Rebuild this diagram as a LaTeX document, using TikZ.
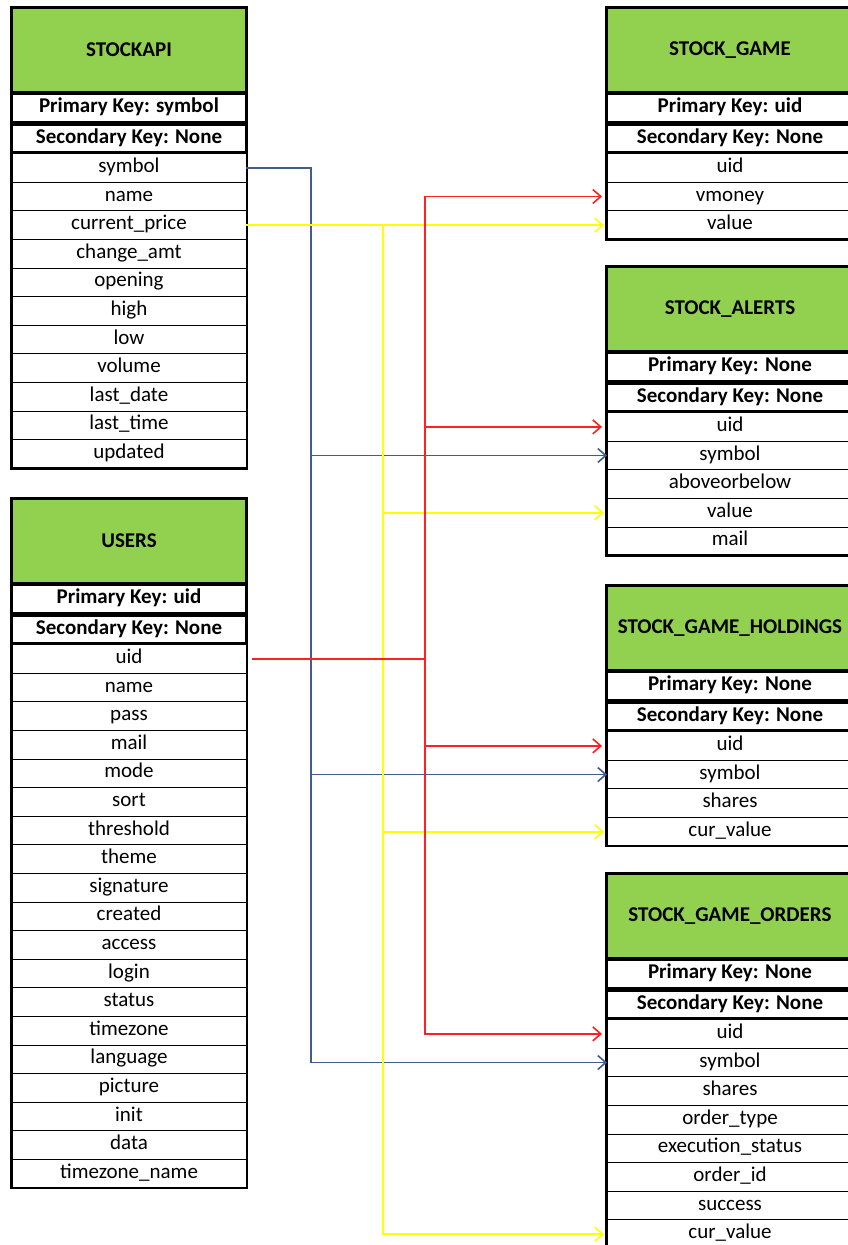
\documentclass[tikz,border=0pt]{standalone}
\usepackage{fontspec}
\setmainfont{Carlito}
\usepackage{xcolor}
\usetikzlibrary{positioning,fit,arrows.meta}

\definecolor{tblgreen}{HTML}{92D050}
\definecolor{symblue}{HTML}{3F5F8A}
\definecolor{uidred}{HTML}{FF2020}
\definecolor{valyellow}{HTML}{FFFF00}

\begin{document}
\begin{tikzpicture}[x=1pt, y=-1pt,
  font=\fontsize{21}{24}\selectfont,
  hdr/.style={draw=black, line width=2.2pt, fill=tblgreen, font=\fontsize{21}{24}\selectfont\bfseries, minimum height=84pt, inner sep=0pt},
  keyrow/.style={draw=black, line width=2.2pt, font=\fontsize{21}{24}\selectfont\bfseries, minimum height=28pt, inner sep=0pt, text height=14pt, text depth=5pt},
  fld/.style={draw=black, line width=0.9pt, minimum height=28.6pt, inner sep=0pt, outer sep=0pt, text height=14pt, text depth=5pt},
  lt/.style={minimum width=234pt},
  rt/.style={minimum width=246pt},
  tblframe/.style={draw=black, line width=2.6pt, inner sep=0pt},
  link/.style={-{Straight Barb[length=8pt,width=14pt]}, line width=1.6pt},
  symlink/.style={link, draw=symblue},
  uidlink/.style={link, draw=uidred, shorten >=5pt},
  vallink/.style={link, draw=valyellow, shorten >=3pt},
]
\clip (0,0) rectangle (848,1245);
\fill[white] (0,0) rectangle (848,1245);

% left tables
\node[hdr, lt, anchor=north] (api) at (129,7) {STOCKAPI};
\node[keyrow, lt, below=0pt of api] (apipk) {Primary Key: symbol};
\node[keyrow, lt, below=0pt of apipk] (apisk) {Secondary Key: None};
\foreach \f [count=\i, remember=\i as \j (initially sk)] in {symbol,name,current\_price,change\_amt,opening,high,low,volume,last\_date,last\_time,updated}
  \node[fld, lt, below=0pt of api\j] (api\i) {\f};
\node[tblframe, fit=(api)(api11)] {};

\node[hdr, lt, anchor=north] (usr) at (129,498) {USERS};
\node[keyrow, lt, below=0pt of usr] (usrpk) {Primary Key: uid};
\node[keyrow, lt, below=0pt of usrpk] (usrsk) {Secondary Key: None};
\foreach \f [count=\i, remember=\i as \j (initially sk)] in {uid,name,pass,mail,mode,sort,threshold,theme,signature,created,access,login,status,timezone,language,picture,init,data,timezone\_name}
  \node[fld, lt, below=0pt of usr\j] (usr\i) {\f};
\node[tblframe, fit=(usr)(usr19)] {};

% right tables
\node[hdr, rt, anchor=north] (gm) at (730,7) {STOCK\_GAME};
\node[keyrow, rt, below=0pt of gm] (gmpk) {Primary Key: uid};
\node[keyrow, rt, below=0pt of gmpk] (gmsk) {Secondary Key: None};
\foreach \f [count=\i, remember=\i as \j (initially sk)] in {uid,vmoney,value}
  \node[fld, rt, below=0pt of gm\j] (gm\i) {\f};
\node[tblframe, fit=(gm)(gm3)] {};

\node[hdr, rt, anchor=north] (al) at (730,266) {STOCK\_ALERTS};
\node[keyrow, rt, below=0pt of al] (alpk) {Primary Key: None};
\node[keyrow, rt, below=0pt of alpk] (alsk) {Secondary Key: None};
\foreach \f [count=\i, remember=\i as \j (initially sk)] in {uid,symbol,aboveorbelow,value,mail}
  \node[fld, rt, below=0pt of al\j] (al\i) {\f};
\node[tblframe, fit=(al)(al5)] {};

\node[hdr, rt, anchor=north] (hold) at (730,585) {STOCK\_GAME\_HOLDINGS};
\node[keyrow, rt, below=0pt of hold] (holdpk) {Primary Key: None};
\node[keyrow, rt, below=0pt of holdpk] (holdsk) {Secondary Key: None};
\foreach \f [count=\i, remember=\i as \j (initially sk)] in {uid,symbol,shares,cur\_value}
  \node[fld, rt, below=0pt of hold\j] (hold\i) {\f};
\node[tblframe, fit=(hold)(hold4)] {};

\node[hdr, rt, anchor=north] (ord) at (730,873) {STOCK\_GAME\_ORDERS};
\node[keyrow, rt, below=0pt of ord] (ordpk) {Primary Key: None};
\node[keyrow, rt, below=0pt of ordpk] (ordsk) {Secondary Key: None};
\foreach \f [count=\i, remember=\i as \j (initially sk)] in {uid,symbol,shares,order\_type,execution\_status,order\_id,success,cur\_value}
  \node[fld, rt, below=0pt of ord\j] (ord\i) {\f};
\node[tblframe, fit=(ord)(ord8)] {};

% connectors
\coordinate (bx) at (311,0);
\coordinate (yx) at (383,0);
\coordinate (rx) at (425,0);
\draw[symlink] (api1.east) -| (bx |- ord2.west) -- (ord2.west);
\draw[symlink] (bx |- al2.west) -- (al2.west);
\draw[symlink] (bx |- hold2.west) -- (hold2.west);
\draw[vallink] (api3.east) -- (gm3.west);
\draw[vallink] (api3.east -| yx) |- (ord8.west);
\draw[vallink] (yx |- al4.west) -- (al4.west);
\draw[vallink] (yx |- hold4.west) -- (hold4.west);
\draw[uidlink] ([xshift=6pt]usr1.east) -| (rx |- gm2.west) -- (gm2.west);
\draw[uidlink] (usr1.east -| rx) |- (ord1.west);
\draw[uidlink] (rx |- al1.west) -- (al1.west);
\draw[uidlink] (rx |- hold1.west) -- (hold1.west);
\end{tikzpicture}
\end{document}
